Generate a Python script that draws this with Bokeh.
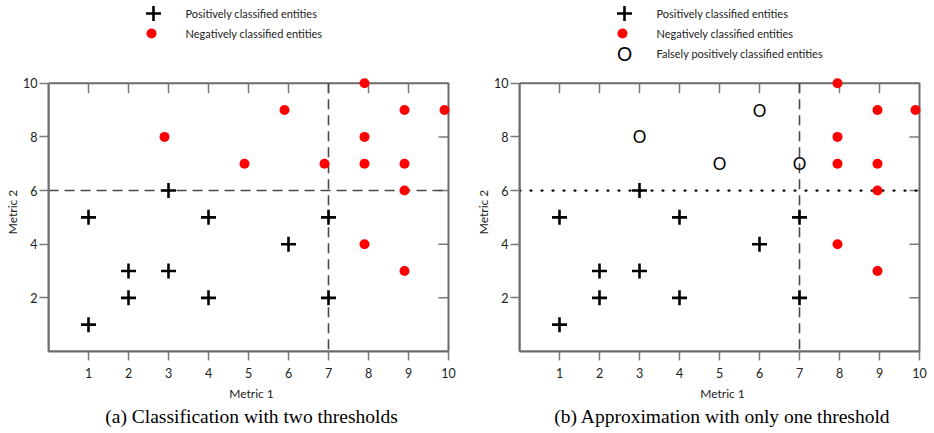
from bokeh.plotting import figure
from bokeh.layouts import row, column
from bokeh.models import Range1d, LinearAxis, FixedTicker, Label, Arrow, Title
from bokeh.core.properties import value
from bokeh.embed import file_html
from bokeh.resources import INLINE

# ---------------- data ----------------
pos_x = [1, 1, 2, 2, 3, 3, 4, 4, 6, 7, 7]
pos_y = [5, 1, 3, 2, 6, 3, 5, 2, 4, 5, 2]

neg_a_x = [2.9, 4.9, 5.9, 6.9, 7.9, 7.9, 7.9, 7.9, 8.9, 8.9, 8.9, 8.9, 9.9]
neg_a_y = [8, 7, 9, 7, 10, 8, 7, 4, 9, 7, 6, 3, 9]

neg_b_x = [7.95, 7.95, 7.95, 7.95, 8.95, 8.95, 8.95, 8.95, 9.9]
neg_b_y = [10, 8, 7, 4, 9, 7, 6, 3, 9]

fp_x = [3, 5, 6, 7]
fp_y = [8, 7, 9, 7]

x_ticks = [1, 2, 3, 4, 5, 6, 7, 8, 9, 10]
y_ticks = [2, 4, 6, 8, 10]
top_ticks = [1, 2, 3, 4, 5, 6, 7, 8, 9]
right_ticks = [2, 4, 6, 8]
x_min, x_max = 0, 10
y_min, y_max = 0, 10
threshold_x = 7
threshold_y = 6

legend_labels = ["Positively classified entities",
                 "Negatively classified entities",
                 "Falsely positively classified entities"]
captions = ["(a) Classification with two thresholds",
            "(b) Approximation with only one threshold"]
x_label = "Metric 1"
y_label = "Metric 2"

SANS = "Lato"
SERIF = "Liberation Serif"
AX_COL = "#6b6b6b"
TICK_COL = "#7a7a7a"
LBL_COL = "#222222"

X_PAD = 0.15          # room so markers on the edge are not clipped
Y_PAD = 0.4
PX_X = 40.0
FRAME_W = int(round(PX_X * (x_max - x_min + X_PAD)))
LEG_H = 64
MAIN_H = 433 - LEG_H
TOP_B = 8
BOT_B = 82
FRAME_H = MAIN_H - TOP_B - BOT_B
PX_Y = FRAME_H / (y_max - y_min + Y_PAD)
TICK_IN = 10


def legend_fig(width, mbl, mbr, n_items):
    lf = figure(width=width, height=LEG_H, x_range=Range1d(0, FRAME_W), y_range=Range1d(LEG_H, 0),
                output_backend="svg", toolbar_location=None, title=None,
                x_axis_location=None, y_axis_location=None,
                min_border=0, min_border_left=mbl, min_border_right=mbr,
                min_border_top=0, min_border_bottom=0)
    lf.outline_line_color = None
    lf.grid.visible = False
    rows_y = [13, 33, 53]
    gx, tx = 105, 137
    lf.scatter([gx], [rows_y[0]], marker="cross", size=15, line_width=2.6, line_color="black")
    lf.scatter([gx - 2], [rows_y[1]], marker="circle", size=10, fill_color="red", line_color=None)
    if n_items == 3:
        lf.text([gx], [rows_y[2]], text=["O"], text_font=value(SANS), text_font_size="19px",
                text_align="center", text_baseline="middle", text_color="black")
    for i in range(n_items):
        lf.text([tx], [rows_y[i]], text=[legend_labels[i]], text_font=value(SANS),
                text_font_size="11px", text_align="left", text_baseline="middle",
                text_color=LBL_COL)
    return lf


def main_fig(width, mbl, mbr, caption, neg_x, neg_y, with_fp, dotted_h):
    p = figure(width=width, height=MAIN_H, x_range=Range1d(x_min, x_max + X_PAD),
               y_range=Range1d(y_min, y_max + Y_PAD),
               output_backend="svg", toolbar_location=None, title=None,
               x_axis_location=None, y_axis_location=None,
               min_border_left=mbl, min_border_right=mbr, min_border_top=TOP_B,
               min_border_bottom=BOT_B)
    p.grid.visible = False
    p.outline_line_color = None

    def axis(ticks, label, bounds, lbl_standoff, ax_standoff):
        ax = LinearAxis(ticker=FixedTicker(ticks=ticks), bounds=bounds,
                        axis_line_color=AX_COL, axis_line_width=2,
                        major_tick_in=0, major_tick_out=9,
                        major_tick_line_color=TICK_COL, major_tick_line_width=1.5,
                        minor_tick_line_color=None,
                        major_label_text_font=SANS, major_label_text_font_size="12.5px",
                        major_label_text_color=LBL_COL, major_label_standoff=lbl_standoff,
                        axis_label=label, axis_label_text_font=SANS,
                        axis_label_text_font_size="12px", axis_label_text_font_style="normal",
                        axis_label_text_color=LBL_COL, axis_label_standoff=ax_standoff)
        return ax

    p.add_layout(axis(x_ticks, x_label, (x_min, x_max), 7, 5), "below")
    p.add_layout(axis(y_ticks, y_label, (y_min, y_max), 2, 0), "left")

    # box (top and right edges)
    p.quad(left=[x_min], right=[x_max], bottom=[y_min], top=[y_max], fill_color=None,
           line_color=AX_COL, line_width=2)

    # inward mirror ticks on top and right edges
    p.segment(x0=top_ticks, y0=[y_max] * len(top_ticks), x1=top_ticks,
              y1=[y_max - TICK_IN / PX_Y] * len(top_ticks), line_color=TICK_COL, line_width=1.5)
    p.segment(x0=[x_max] * len(right_ticks), y0=right_ticks,
              x1=[x_max - TICK_IN / PX_X] * len(right_ticks), y1=right_ticks,
              line_color=TICK_COL, line_width=1.5)

    # corner zero + diagonal
    p.add_layout(Label(x=x_min, y=y_min, x_offset=-17, y_offset=-18, text="0", text_font=SANS,
                       text_font_size="12.5px", text_color=LBL_COL,
                       text_align="center", text_baseline="middle"))
    p.add_layout(Arrow(end=None, x_start=x_min, y_start=y_min, x_end=x_min - 10 / PX_X,
                       y_end=y_min - 11 / PX_Y, line_color=TICK_COL, line_width=1))

    # thresholds
    p.segment(x0=[threshold_x], y0=[y_max], x1=[threshold_x], y1=[y_min],
              line_color="#4a4a4a", line_width=1.6, line_dash="10 6")
    if dotted_h:
        p.segment(x0=[x_min], y0=[threshold_y], x1=[x_max], y1=[threshold_y],
                  line_color="black", line_width=2.2, line_dash="1 10", line_cap="round")
    else:
        p.segment(x0=[x_min], y0=[threshold_y], x1=[x_max], y1=[threshold_y],
                  line_color="#4a4a4a", line_width=1.6, line_dash="10 6")

    p.scatter(neg_x, neg_y, marker="circle", size=10, fill_color="red", line_color=None)
    if with_fp:
        p.text(fp_x, fp_y, text=["O"] * len(fp_x), text_font=value(SANS), text_font_size="17px",
               text_align="center", text_baseline="middle", text_color="black")
    p.scatter(pos_x, pos_y, marker="cross", size=15, line_width=2.6, line_color="black")

    p.add_layout(Title(text=caption, align="center", text_font=SERIF, text_font_size="19.5px",
                       text_font_style="normal", text_color="black", standoff=1), "below")
    return p


WA, LA = 470, 48
WB, LB = 464, 49
RA = WA - LA - FRAME_W
RB = WB - LB - FRAME_W
la = legend_fig(WA, LA, RA, 2)
lb = legend_fig(WB, LB, RB, 3)
pa = main_fig(WA, LA, RA, captions[0], neg_a_x, neg_a_y, False, False)
pb = main_fig(WB, LB, RB, captions[1], neg_b_x, neg_b_y, True, True)

layout = row(column(la, pa), column(lb, pb))
open("out.html", "w").write(file_html(layout, INLINE))
